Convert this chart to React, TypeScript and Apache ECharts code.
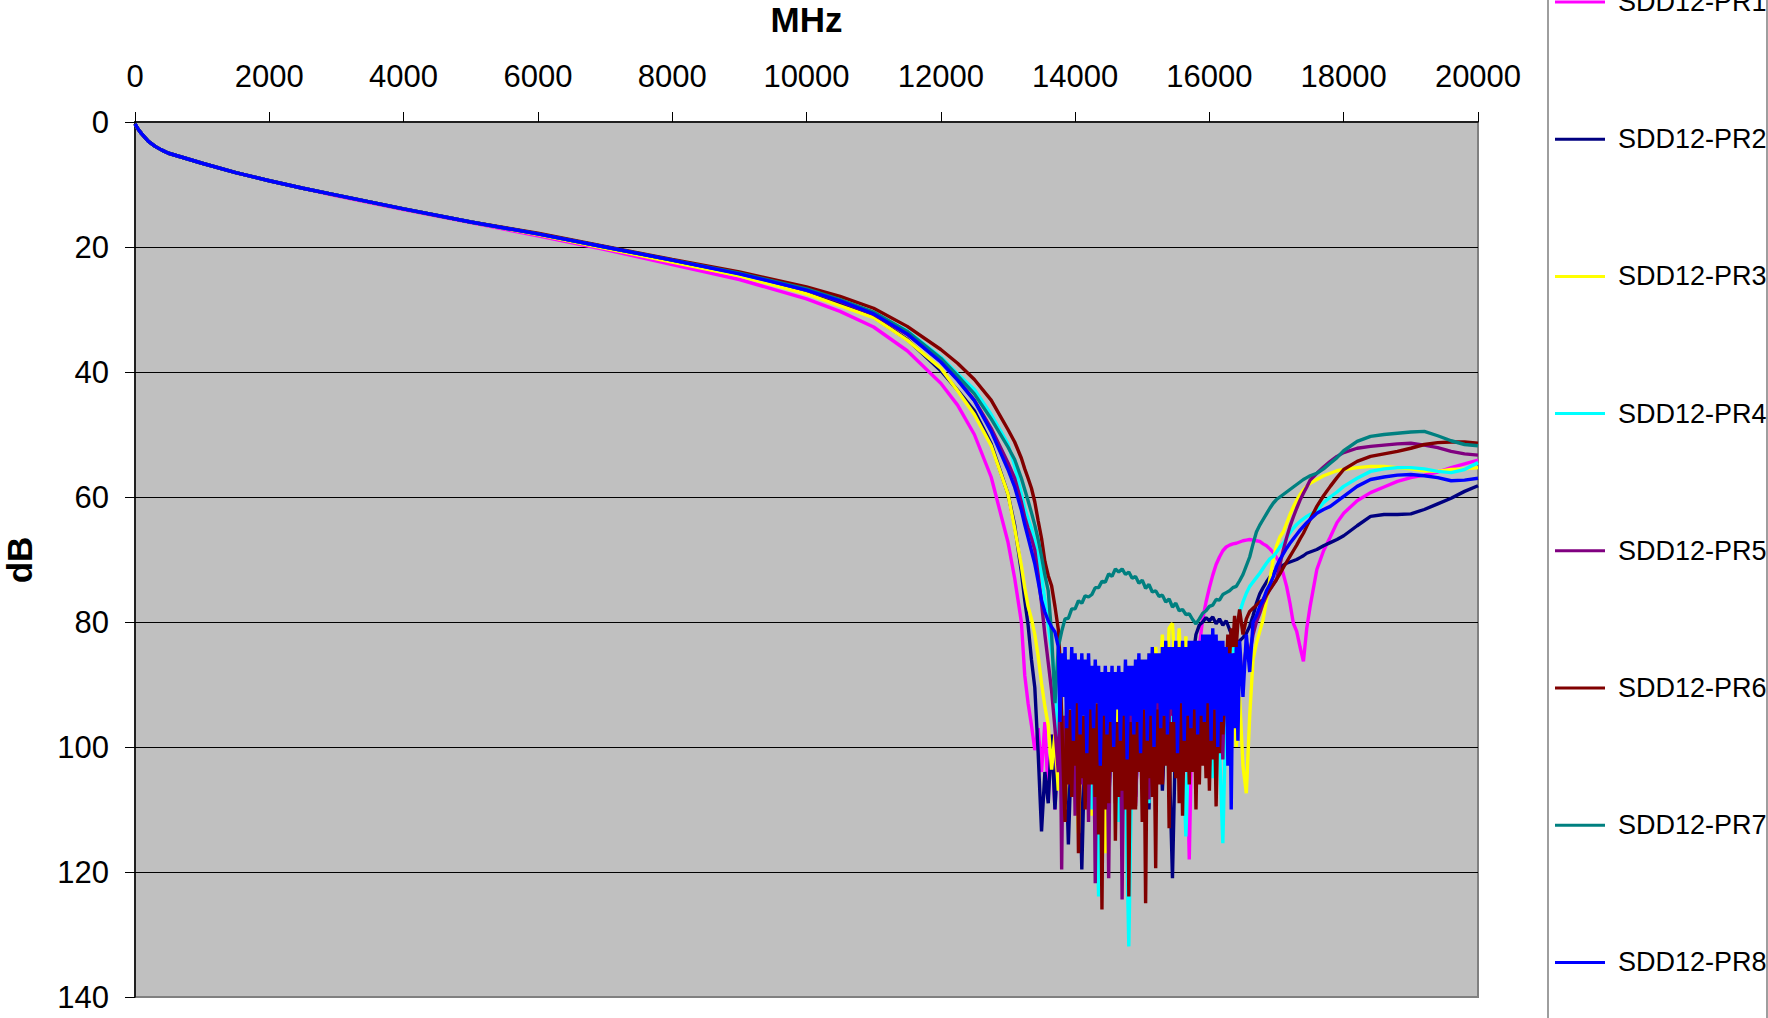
import React, { useEffect, useRef } from "react";
import * as echarts from "echarts";

// Frequency grid (MHz)
const freqMHz = [
  0, 50, 100, 150, 200, 300, 400, 500, 750, 1000, 1500, 2000,
  2500, 3000, 4000, 5000, 6000, 7000, 8000, 9000, 10000, 10500,
  11000, 11500, 12000, 12250, 12500, 12750, 13000, 13100, 13200,
  13250, 13300, 13350, 13400, 13450, 13500, 13550, 13600, 13650, 13700,
  13750, 13800, 13850, 13900, 13950, 14000, 14050, 14100, 14150, 14200,
  14250, 14300, 14350, 14400, 14450, 14500, 14550, 14600, 14650, 14700,
  14750, 14800, 14850, 14900, 14950, 15000, 15050, 15100, 15150, 15200,
  15250, 15300, 15350, 15400, 15450, 15500, 15550, 15600, 15650, 15700,
  15750, 15800, 15850, 15900, 15950, 16000, 16050, 16100, 16150, 16200,
  16250, 16300, 16350, 16400, 16450, 16500, 16550, 16600, 16650, 16700,
  16750, 16800,
  16850, 16900, 16950, 17000, 17050, 17100, 17150, 17200, 17250, 17300, 17350, 17400, 17450, 17500,
  17600, 17700, 17800, 17900, 18000, 18200, 18400, 18600, 18800, 19000, 19200, 19400, 19600, 19800, 20000,
];

// Finer frequency grid used in the noisy stop-band for the densest traces
const freqFine = [
  13750, 13775, 13800, 13825, 13850, 13875, 13900, 13925, 13950, 13975,
  14000, 14025, 14050, 14075, 14100, 14125, 14150, 14175, 14200, 14225,
  14250, 14275, 14300, 14325, 14350, 14375, 14400, 14425, 14450, 14475,
  14500, 14525, 14550, 14575, 14600, 14625, 14650, 14675, 14700, 14725,
  14750, 14775, 14800, 14825, 14850, 14875, 14900, 14925, 14950, 14975,
  15000, 15025, 15050, 15075, 15100, 15125, 15150, 15175, 15200, 15225,
  15250, 15275, 15300, 15325, 15350, 15375, 15400, 15425, 15450, 15475,
  15500, 15525, 15550, 15575, 15600, 15625, 15650, 15675, 15700, 15725,
  15750, 15775, 15800, 15825, 15850, 15875, 15900, 15925, 15950, 15975,
  16000, 16025, 16050, 16075, 16100, 16125, 16150, 16175, 16200, 16225,
  16250, 16275, 16300, 16325, 16350, 16375, 16400, 16425, 16450,
];

const pr1 = [
  0.3, 1.2, 1.9, 2.5, 3.1, 3.9, 4.5, 5.0, 5.8, 6.6, 8.1, 9.4,
  10.6, 11.8, 14.0, 16.1, 18.2, 20.4, 22.8, 25.2, 28.3, 30.3,
  32.8, 36.6, 41.8, 45.3, 50.0, 56.8, 67.2, 73.0, 80.0,
  88.5, 93.0, 96.5, 100.5, 97, 104, 96, 108, 98, 110,
  97, 106, 95, 108, 97, 104, 94, 110, 96, 103,
  95, 107, 96, 102, 94, 108, 97, 101, 94, 106,
  95, 103, 93, 109, 96, 102, 94, 107, 95, 101,
  93, 106, 94, 100, 92, 105, 93, 99, 91, 118,
  90, 88, 84, 79.5, 76.8, 74.5, 72.5, 70.8, 69.6, 68.6,
  68.0, 67.7, 67.5, 67.4, 67.2, 67.0, 66.9, 66.8, 66.9, 67.0,
  67.1, 67.5,
  67.8, 68.3, 68.9, 69.7, 70.6, 72.3, 74.3, 77.0, 80.2, 81.5, 84.0, 86.3, 81.0, 77.5,
  71.6, 68.6, 66.4, 64.1, 62.6, 60.6, 59.3, 58.4, 57.5, 56.9, 56.5, 56.0, 55.3, 54.7, 54.1,
];

const pr2 = [
  0.3, 1.2, 1.9, 2.5, 3.1, 3.9, 4.5, 5.0, 5.8, 6.6, 8.1, 9.4,
  10.6, 11.7, 13.9, 16.0, 17.9, 20.0, 22.2, 24.4, 27.1, 29.0,
  31.2, 34.8, 39.8, 42.9, 46.2, 51.5, 59.5, 64.5, 72.0,
  76.5, 80.5, 86.0, 90.5, 101, 113.5, 104, 109, 98, 110,
  100, 106, 97, 115.6, 99, 108, 96, 119.6, 98, 105,
  95, 111, 97, 104, 94, 109, 96, 103, 95, 112,
  97, 104, 94, 108, 96, 102, 93, 110, 95, 103,
  92, 107, 94, 101, 121, 96, 104, 92, 99, 90,
  86, 82, 80.5, 80, 79.3, 79.8, 79.2, 80.3, 79.5, 80.5,
  79.8, 81.2, 82.5, 84, 83, 82.5, 81.8, 80.7, 79, 77,
  75.5, 74.5,
  73.6, 72.8, 72.2, 71.6, 71.2, 70.9, 70.6, 70.4, 70.2, 70.0, 69.7, 69.4, 69.0, 68.8,
  68.4, 67.8, 67.3, 66.8, 66.2, 64.6, 63.1, 62.8, 62.8, 62.7, 62.0, 61.1, 60.2, 59.1, 58.2,
];

const pr3 = [
  0.3, 1.2, 1.9, 2.5, 3.1, 3.9, 4.5, 5.0, 5.8, 6.6, 8.1, 9.4,
  10.6, 11.7, 13.9, 16.0, 18.0, 20.2, 22.4, 24.6, 27.5, 29.4,
  31.3, 34.9, 39.4, 43.0, 46.8, 51.8, 59.5, 65.0, 71.0,
  74.5, 77.5, 79.5, 82.0, 85.5, 89.8, 93.5, 96.5, 103.6, 98,
  107, 97, 110, 96, 105, 94, 113.8, 95, 104, 93,
  111, 94, 103, 92, 117, 93, 101, 90, 98, 89,
  96, 88, 99, 87, 95, 86, 97, 85, 93, 84,
  91, 82, 94, 81, 80.2, 90, 81, 93, 82.3, 96,
  84, 98, 85, 95, 84, 97, 85, 94, 84, 99,
  86, 95, 88, 100, 92, 103, 107.4, 95, 86, 83.4,
  81.5, 79.6,
  76.5, 73.2, 70.0, 67.8, 66.4, 65.6, 64.2, 62.8, 61.6, 60.5, 59.6, 58.9, 58.3, 57.8,
  57.2, 56.6, 56.2, 55.8, 55.6, 55.3, 55.1, 55.1, 55.3, 55.5, 55.8, 55.9, 55.6, 55.5, 55.3,
];

const pr4 = [
  0.3, 1.2, 1.9, 2.5, 3.1, 3.9, 4.5, 5.0, 5.8, 6.6, 8.1, 9.4,
  10.6, 11.7, 13.9, 16.0, 17.9, 20.0, 22.1, 24.3, 26.9, 28.6,
  30.5, 33.4, 37.6, 40.3, 42.8, 46.8, 51.5, 55.0, 59.5,
  61.8, 63.5, 65.0, 67.0, 69.5, 72.5, 76.5, 80.5, 84.5, 89,
  100, 94, 105, 96, 103, 95, 108, 97, 104, 96,
  110, 98, 123.9, 97, 106, 95, 104, 96, 112, 98,
  105, 131.9, 99, 107, 96, 103, 95, 109, 97, 104,
  94, 102, 93, 106, 95, 101, 92, 99, 114.3, 96,
  103, 93, 100, 91, 98, 92, 105, 94, 100, 115.4,
  93, 88, 85, 81, 78.5, 76.8, 75.4, 74.3, 73.6, 72.9,
  72.2, 71.4,
  70.6, 69.9, 69.5, 68.8, 68.0, 67.4, 66.6, 65.7, 65.0, 64.4, 63.9, 63.5, 63.1, 62.8,
  62.2, 60.9, 60.0, 59.2, 58.3, 57.0, 55.9, 55.5, 55.3, 55.3, 55.5, 55.9, 56.1, 55.6, 54.5,
];

const pr5 = [
  0.3, 1.2, 1.9, 2.5, 3.1, 3.9, 4.5, 5.0, 5.8, 6.6, 8.1, 9.4,
  10.6, 11.7, 13.9, 16.0, 17.9, 20.0, 22.1, 24.2, 26.9, 28.7,
  30.8, 34.0, 38.3, 41.2, 44.5, 49.0, 54.5, 57.0, 60.8,
  63.2, 65.0, 66.6, 68.5, 72.5, 77.0, 82.0, 86.5, 91, 97,
  104, 119.6, 98, 108, 96, 111, 97, 106, 95, 112,
  96, 121.8, 98, 107, 95, 121, 97, 109, 96, 124.4,
  98, 106, 94, 109.5, 96, 104, 93, 108.4, 95, 102,
  92, 100, 90, 97, 89, 96, 88.5, 95, 89, 98,
  90, 101, 92, 99, 91, 103, 93, 98, 90, 102,
  89, 95, 87, 91, 84, 88, 84, 85, 82, 80,
  78.6, 77,
  75.8, 74.8, 74.0, 73.2, 70.8, 68.5, 66.5, 64.7, 63.2, 61.8, 60.5, 59.4, 58.4, 57.3,
  56.2, 55.2, 54.3, 53.5, 52.9, 52.2, 51.9, 51.7, 51.5, 51.4, 51.7, 52.1, 52.7, 53.1, 53.3,
];

const pr5Fine = [
  104, 92, 119.6, 95, 108, 94, 105, 96, 100, 93,
  111, 95, 104, 93, 106, 95, 103, 94, 112, 96,
  105, 94, 121.8, 96, 104, 93, 107, 95, 101, 94,
  121, 95, 103, 94, 109, 96, 102, 93, 124.4, 95,
  104, 92, 106, 94, 101, 93, 109.5, 96, 100, 93,
  104, 92, 99, 91, 108.4, 93, 98, 91, 102, 90,
  97, 89, 100, 90, 96, 88, 97, 89, 95, 88,
  96, 88, 94, 88.5, 95, 89, 96, 89, 98, 90,
  97, 90, 101, 91, 98, 92, 99, 91, 100, 90,
  103, 91, 97, 93, 98, 90, 99, 91, 102, 89,
  94, 88, 95, 86, 90, 85, 91, 84, 88,
];

const pr6 = [
  0.3, 1.2, 1.9, 2.5, 3.1, 3.9, 4.5, 5.0, 5.8, 6.6, 8.1, 9.4,
  10.6, 11.7, 13.9, 16.0, 17.8, 19.9, 22.0, 24.0, 26.4, 27.9,
  29.8, 32.7, 36.4, 38.6, 41.2, 44.5, 49.2, 51.2, 53.8,
  55.5, 57.0, 58.6, 60.8, 63.8, 66.6, 70.3, 72.6, 74.2, 77.5,
  81.2, 88, 112, 94, 108, 92, 117, 95, 110, 91,
  106, 93, 114, 126, 95, 109, 92, 115, 94, 107,
  91, 123.9, 96, 110, 93, 112, 125, 94, 108, 119.4,
  92, 106, 91, 113, 93, 105, 90, 111, 94, 104,
  92, 110, 93, 103, 91, 107, 94, 109.5, 92, 96,
  80, 86, 79, 84, 78, 82, 79.5, 78.3, 77.8, 77.3,
  76.8, 76.4,
  75.6, 74.8, 74.0, 73.2, 72.3, 71.3, 70.4, 69.5, 68.6, 67.7, 66.7, 65.8, 64.7, 63.6,
  61.5, 59.8, 58.3, 56.9, 55.6, 54.3, 53.5, 53.1, 52.7, 52.2, 51.6, 51.3, 51.2, 51.2, 51.4,
];

const pr6Fine = [
  81.2, 86, 95, 104, 112, 93, 106, 94, 108, 95,
  103, 92, 117, 96, 105, 95, 110, 92, 106, 91,
  106, 95, 108, 93, 114, 97, 126, 94, 110, 93,
  109, 94, 104, 92, 115, 96, 108, 94, 107, 93,
  110, 91, 123.9, 96, 110, 94, 110, 93, 104, 95,
  112, 94, 125, 96, 105, 94, 108, 97, 119.4, 94,
  106, 92, 106, 95, 103, 91, 113, 96, 104, 93,
  105, 92, 109, 90, 111, 96, 104, 94, 106, 95,
  104, 92, 110, 95, 106, 93, 103, 94, 105, 91,
  107, 95, 102, 94, 109.5, 96, 101, 92, 98, 94,
  88, 82, 86, 81, 84, 79, 84, 80, 78,
];

const pr7 = [
  0.3, 1.2, 1.9, 2.5, 3.1, 3.9, 4.5, 5.0, 5.8, 6.6, 8.1, 9.4,
  10.6, 11.7, 13.9, 16.0, 17.9, 20.0, 22.1, 24.2, 26.7, 28.4,
  30.4, 33.5, 37.8, 40.6, 43.5, 47.5, 52.0, 54.0, 57.0,
  58.8, 60.6, 62.5, 64.5, 66.8, 69.5, 72.5, 75.0, 82, 93,
  84, 81.5, 79.5, 79.4, 77.9, 77.9, 76.6, 77.0, 75.8, 76.0,
  75.6, 74.5, 74.5, 73.5, 73.6, 72.3, 72.7, 71.5, 72.0, 71.5,
  72.4, 72.0, 73.0, 72.7, 73.8, 73.3, 74.6, 74.0, 75.2, 75.0,
  75.9, 75.7, 76.8, 76.3, 77.6, 77.0, 78.2, 78.0, 78.8, 78.7,
  79.6, 80.3, 79.5, 78.6, 78.2, 77.5, 77.3, 76.4, 76.5, 75.6,
  75.3, 75.0, 74.5, 74.3, 73.4, 72.4, 71.0, 69.6, 67.5, 65.6,
  64.5, 63.6,
  62.7, 61.8, 61.0, 60.4, 60.0, 59.6, 59.2, 58.8, 58.4, 58.0, 57.6, 57.2, 56.9, 56.6,
  56.2, 55.5, 54.6, 53.7, 52.6, 51.1, 50.3, 50.0, 49.8, 49.6, 49.5, 50.2, 51.0, 51.6, 51.8,
];

const pr8 = [
  0.3, 1.2, 1.9, 2.5, 3.1, 3.9, 4.5, 5.0, 5.8, 6.6, 8.1, 9.4,
  10.6, 11.7, 13.9, 16.0, 17.9, 20.0, 22.1, 24.3, 26.9, 28.6,
  30.7, 33.9, 38.4, 41.3, 44.6, 49.5, 55.6, 58.4, 62.1,
  64.4, 66.5, 68.6, 70.7, 73.5, 76.5, 78.4, 79.8, 80.8, 81.6,
  84, 95, 85, 97, 84, 99, 86, 93, 85, 101,
  87, 96, 86, 103, 88, 97, 87, 100, 88, 95,
  86, 102, 87, 96, 85, 99, 86, 94, 84, 100,
  85, 95, 83, 98, 84, 93, 83, 101, 84, 95,
  83, 98, 83, 96, 82, 94, 81, 100, 83, 96,
  84, 110, 85, 97, 83, 92, 82, 88, 80, 79,
  77.5, 76.5,
  75, 74, 72.8, 71.1, 70, 69.1, 68.2, 67.4, 66.7, 66, 65.3, 64.7, 64.1, 63.6,
  62.6, 62, 61.5, 60.7, 59.9, 58.3, 57.2, 56.8, 56.5, 56.4, 56.6, 56.9, 57.4, 57.3, 57.0,
];

const pr8Fine = [
  84, 96, 85, 92, 84, 97, 86, 94, 84, 99,
  85, 93, 86, 98, 85, 95, 86, 101, 85, 94,
  87, 97, 86, 93, 87, 103, 88, 95, 87, 98,
  88, 96, 87, 100, 88, 94, 87, 99, 88, 95,
  86, 102, 87, 95, 87, 98, 86, 96, 85, 101,
  86, 94, 86, 99, 85, 95, 84, 100, 85, 93,
  85, 97, 84, 95, 83, 98, 84, 94, 84, 96,
  83, 101, 84, 93, 83, 99, 84, 95, 83, 97,
  83, 94, 83, 98, 83, 95, 82, 96, 82, 93,
  82, 99, 81, 94, 82, 100, 83, 96, 83, 95,
  84, 103, 85, 110, 85, 97, 84, 99, 83,
];

const seriesNames = [
  "SDD12-PR1", "SDD12-PR2", "SDD12-PR3", "SDD12-PR4",
  "SDD12-PR5", "SDD12-PR6", "SDD12-PR7", "SDD12-PR8",
];
const seriesColors = [
  "#FF00FF", "#000080", "#FFFF00", "#00FFFF",
  "#800080", "#800000", "#008080", "#0000FF",
];
const seriesValues = [pr1, pr2, pr3, pr4, pr5, pr6, pr7, pr8];
const seriesFine: (number[] | null)[] = [null, null, null, null, pr5Fine, pr6Fine, null, pr8Fine];

const FONT = '"Liberation Sans", Arial, Helvetica, sans-serif';

export default function App() {
  const ref = useRef<HTMLDivElement>(null);

  useEffect(() => {
    if (!ref.current) return;
    const chart = echarts.init(ref.current, null, { renderer: "svg" });

    const fineMin = freqFine[0];
    const fineMax = freqFine[freqFine.length - 1];

    const series = seriesValues.map((vals, k) => {
      let pts: number[][] = freqMHz.map((f, i) => [f, vals[i]]);
      const fine = seriesFine[k];
      if (fine) {
        pts = pts
          .filter((p) => p[0] < fineMin || p[0] > fineMax)
          .concat(freqFine.map((f, i) => [f, fine[i]]))
          .sort((a, b) => a[0] - b[0]);
      }
      return {
        type: "line",
        name: seriesNames[k],
        data: pts,
        showSymbol: false,
        symbol: "none",
        silent: true,
        clip: true,
        lineStyle: { color: seriesColors[k], width: 3.4, join: "bevel" },
        itemStyle: { color: seriesColors[k] },
      };
    });

    const legendTop = 2;
    const legendStep = 137.2;
    const legendEls: any[] = [];
    seriesNames.forEach((name, k) => {
      const y = legendTop + k * legendStep;
      legendEls.push({
        type: "line",
        shape: { x1: 1555, y1: y, x2: 1605, y2: y },
        style: { stroke: seriesColors[k], lineWidth: 3 },
        silent: true,
      });
      legendEls.push({
        type: "text",
        x: 1618,
        y,
        silent: true,
        style: {
          text: name,
          fill: "#000",
          font: `27px ${FONT}`,
          textAlign: "left",
          textVerticalAlign: "middle",
          align: "left",
          verticalAlign: "middle",
        },
      });
    });

    const option: any = {
      animation: false,
      backgroundColor: "#ffffff",
      textStyle: { fontFamily: FONT },
      grid: {
        left: 135,
        top: 122,
        width: 1343,
        height: 875,
        show: true,
        backgroundColor: "#C0C0C0",
        borderColor: "#808080",
        borderWidth: 2,
        containLabel: false,
        outerBoundsMode: "none",
      },
      xAxis: {
        type: "value",
        position: "top",
        min: 0,
        max: 20000,
        interval: 2000,
        axisLine: { show: true, onZero: false, lineStyle: { color: "#000", width: 1.5 } },
        axisTick: { show: true, inside: false, length: 10, lineStyle: { color: "#000", width: 1 } },
        axisLabel: {
          show: true,
          fontSize: 31,
          color: "#000",
          fontFamily: FONT,
          margin: 30,
          formatter: (v: number) => String(v),
        },
        splitLine: { show: false },
      },
      yAxis: {
        type: "value",
        inverse: true,
        position: "left",
        min: 0,
        max: 140,
        interval: 20,
        axisLine: { show: true, onZero: false, lineStyle: { color: "#000", width: 1.5 } },
        axisTick: { show: true, inside: false, length: 10, lineStyle: { color: "#000", width: 1 } },
        axisLabel: {
          show: true,
          fontSize: 31,
          color: "#000",
          fontFamily: FONT,
          margin: 26,
          formatter: (v: number) => String(v),
        },
        splitLine: {
          show: true,
          showMinLine: false,
          showMaxLine: false,
          lineStyle: { color: "#000", width: 1 },
        },
      },
      graphic: [
        {
          type: "rect",
          shape: { x: 1548, y: -10, width: 219, height: 1040 },
          style: { fill: "none", stroke: "#7f7f7f", lineWidth: 1.5 },
          silent: true,
          z: 0,
        },
        {
          type: "text",
          x: 806.5,
          y: 19,
          silent: true,
          style: {
            text: "MHz",
            fill: "#000",
            font: `bold 35px ${FONT}`,
            textAlign: "center",
            textVerticalAlign: "middle",
            align: "center",
            verticalAlign: "middle",
          },
        },
        {
          type: "text",
          x: 19,
          y: 560,
          rotation: Math.PI / 2,
          silent: true,
          style: {
            text: "dB",
            fill: "#000",
            font: `bold 35px ${FONT}`,
            textAlign: "center",
            textVerticalAlign: "middle",
            align: "center",
            verticalAlign: "middle",
          },
        },
        ...legendEls,
      ],
      series,
    };

    chart.setOption(option);
    return () => chart.dispose();
  }, []);

  return (
    <div
      ref={ref}
      style={{ position: "fixed", left: 0, top: 0, width: 1768, height: 1018, background: "#fff" }}
    />
  );
}
